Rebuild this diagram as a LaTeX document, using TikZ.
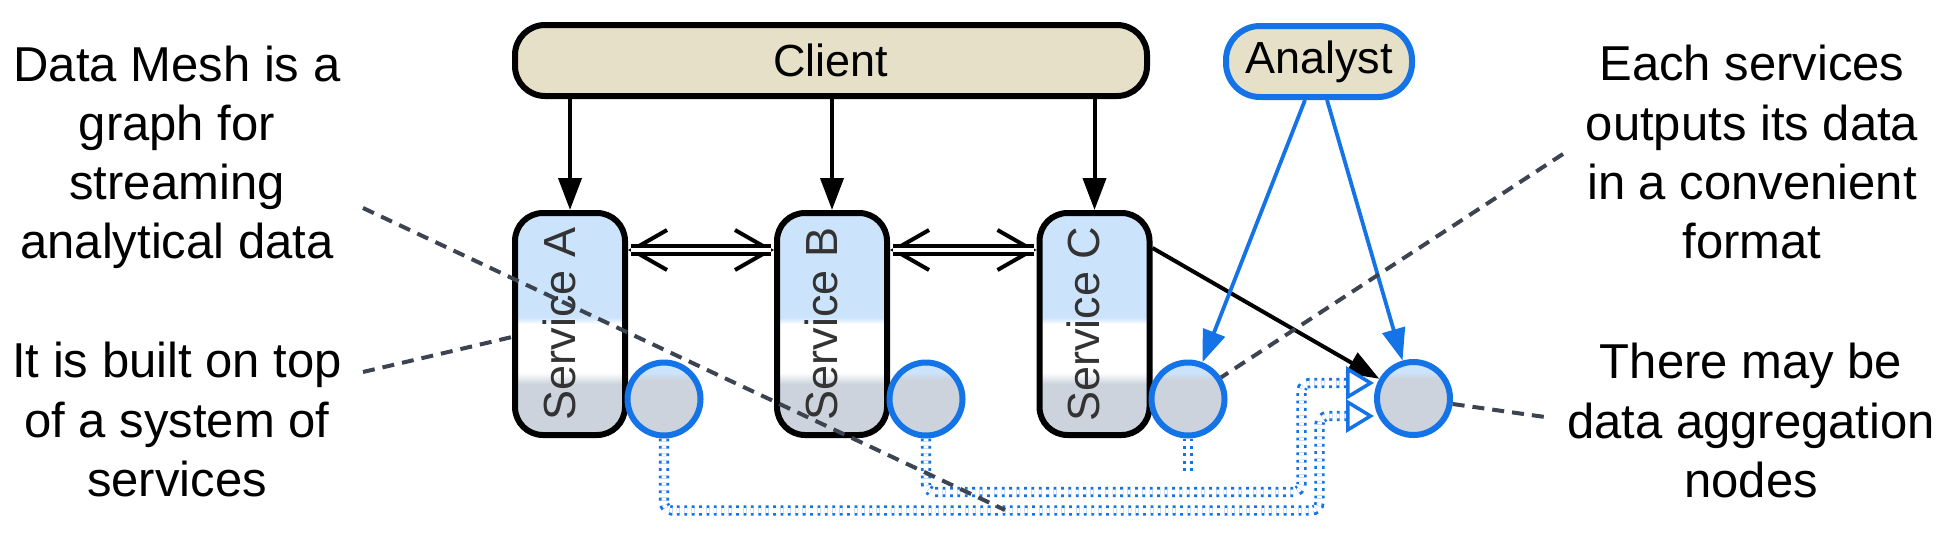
\documentclass[tikz,border=0pt]{standalone}
\usepackage{fontspec}
\setmainfont{Liberation Sans}
\usetikzlibrary{arrows.meta,calc}
\definecolor{svblue}{HTML}{CCE3FC}
\definecolor{svgrey}{HTML}{CCD3DC}
\definecolor{beige}{HTML}{E6E0C9}
\definecolor{acc}{HTML}{1473E6}
\definecolor{dashgrey}{HTML}{3D4451}
\definecolor{txtgrey}{HTML}{333333}
\pgfdeclareverticalshading{svcshade}{100bp}{color(0bp)=(svgrey); color(36.5bp)=(svgrey); color(39bp)=(white); color(50bp)=(white); color(51.5bp)=(svblue); color(100bp)=(svblue)}
\pgfdeclareverticalshading{dotshade}{100bp}{color(0bp)=(svgrey); color(63.5bp)=(svgrey); color(68bp)=(svblue); color(100bp)=(svblue)}
\begin{document}
\begin{tikzpicture}[x=1pt,y=-1pt,
  svc/.style={draw=black, line width=6pt, rounded corners=28pt, minimum width=110pt, minimum height=222pt, inner sep=0pt, shade, shading=svcshade, text=txtgrey, font=\fontsize{45}{54}\selectfont},
  port/.style={circle, draw=acc, line width=6pt, minimum size=73pt, inner sep=0pt, shade, shading=dotshade},
  actor/.style={draw=black, line width=6pt, fill=beige, rounded corners=30pt, minimum height=71pt, inner sep=0pt, font=\fontsize{45}{54}\selectfont},
  note/.style={align=center, inner sep=0pt, font=\fontsize{49}{59.3}\selectfont},
  blk/.style={draw=black, line width=4pt, -{Triangle[length=32pt,width=23pt]}},
  bluearr/.style={draw=acc, line width=3.8pt, -{Triangle[length=32pt,width=23pt]}},
  barbs/.style={draw=black, line width=4pt, {Straight Barb[length=35pt,width=40pt]}-{Straight Barb[length=35pt,width=40pt]}},
  dblshaft/.style={draw=black, line width=3.6pt, double=white, double distance=4pt, shorten <=3pt, shorten >=3pt},
  route/.style={draw=acc, line width=2.8pt, double=white, double distance=4.6pt, dash pattern=on 2.8pt off 4.6pt, rounded corners=8pt},
  opentri/.style={draw=acc, line width=3.5pt, -{Triangle[open, fill=white, length=28pt, width=33pt]}},
  callout/.style={draw=dashgrey, line width=4pt, dash pattern=on 12pt off 8pt}
]
\fill[white] (0,0) rectangle (1958,536);
\useasboundingbox (0,0) rectangle (1958,536);

% nodes
\node[actor, minimum width=632pt] (client) at (831,60.5) {Client};
\node[actor, draw=acc, minimum width=186pt, rounded corners=34pt] (an) at (1319,61.5) {Analyst};
\node[svc] (sA) at (570,324) {\rotatebox{90}{\rule[-22pt]{0pt}{38pt}Service A}};
\node[svc] (sB) at (832,324) {\rotatebox{90}{\rule[-22pt]{0pt}{38pt}Service B}};
\node[svc] (sC) at (1094.5,324) {\rotatebox{90}{\rule[-22pt]{0pt}{38pt}Service C}};
\node[port] (cA) at (664,399) {};
\node[port] (cB) at (926,399) {};
\node[port] (cC) at (1188,399) {};
\node[port] (agg) at (1413.5,398.5) {};

\node[note] (t1) at (177,157.3) {Data Mesh is a\\graph for\\streaming\\analytical data};
\node[note] (t2) at (177,419.7) {It is built on top\\of a system of\\services};
\node[note] (t3) at (1752,152.3) {Each services\\outputs its data\\in a convenient\\format};
\node[note] (t4) at (1751,420.7) {There may be\\data aggregation\\nodes};

% client to services
\draw[blk] (client.south -| sA.north) -- (sA.north);
\draw[blk] (client.south -| sB.north) -- (sB.north);
\draw[blk] (client.south -| sC.north) -- (sC.north);

% service to service
\coordinate (ab1) at ($(sA.east)+(0,-74)$);
\coordinate (ab2) at (sB.west |- ab1);
\coordinate (bc1) at ($(sB.east)+(0,-74)$);
\coordinate (bc2) at (sC.west |- bc1);
\draw[barbs] (ab1) -- (ab2);
\draw[dblshaft] (ab1) -- (ab2);
\draw[barbs] (bc1) -- (bc2);
\draw[dblshaft] (bc1) -- (bc2);

% service C to aggregator
\coordinate (cout) at ($(sC.east)+(0,-76)$);
\draw[blk] (cout) -- (agg);

% analyst
\coordinate (an1) at ($(an.south)+(-14,0)$);
\coordinate (an2) at ($(an.south)+(8,0)$);
\draw[bluearr] (an1) -- (cC);
\draw[bluearr] (an2) -- (agg);

% dotted data routes
\coordinate (rA1) at (1319.5,510.5);
\coordinate (rA2) at (1348,416);
\coordinate (rB1) at (1301.5,492);
\coordinate (rB2) at (1348,383);
\coordinate (stubC) at (1188,472);
\draw[route] (cA.south) |- (rA1) |- (rA2);
\draw[route] (cB.south) |- (rB1) |- (rB2);
\draw[route] (cC.south) -- (stubC);
\draw[opentri] (rA2) -- (agg.west |- rA2);
\draw[opentri] (rB2) -- (agg.west |- rB2);

% callouts
\coordinate (c1s) at (363,208);
\coordinate (c1e) at (1005,510);
\coordinate (c2s) at (363,372);
\coordinate (c3s) at (1563,154);
\coordinate (c4e) at (1545,417);
\draw[callout] (c1s) -- (c1e);
\draw[callout] (c2s) -- ($(sA.west)+(0,13)$);
\draw[callout] (c3s) -- (cC);
\draw[callout] (agg) -- (c4e);
\end{tikzpicture}
\end{document}
